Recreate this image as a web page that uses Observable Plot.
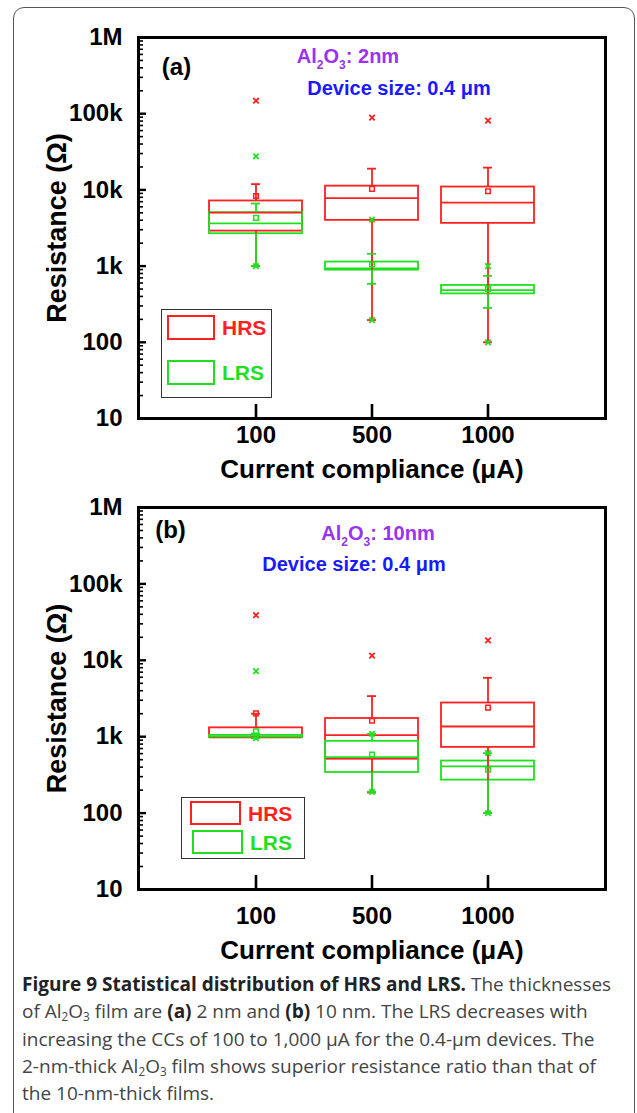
<!DOCTYPE html>
<html>
<head>
<meta charset="utf-8">
<script src="https://cdn.jsdelivr.net/npm/d3@7"></script>
<script src="https://cdn.jsdelivr.net/npm/@observablehq/plot@0.6"></script>
<style>
  html, body { margin: 0; padding: 0; background: #fff; }
  body { width: 637px; height: 1113px; position: relative; overflow: hidden; }
  #border { position: absolute; left: 13px; top: 7px; width: 622px; height: 1130px;
            border: 1.3px solid #555; border-radius: 11px; box-sizing: border-box; }
  .panel { position: absolute; left: 0; }
  .legend { position: absolute; border: 1.6px solid #333; box-sizing: border-box; background: #fff;
            font-family: "Liberation Sans", Arial, sans-serif; font-weight: bold; }
  .legend .row { position: absolute; display: flex; align-items: center; }
  .legend .sw { box-sizing: border-box; border: 2px solid; background: #fff; }
  .legend .lab { margin-left: 7px; font-size: 21px; line-height: 1; }
  #caption { position: absolute; left: 22px; top: 971px; font-family: "Open Sans", sans-serif;
             font-size: 19px; line-height: 27.3px; color: #444; white-space: nowrap; }
  #caption b { color: #222; font-weight: 700; }
  #caption sub { font-size: 0.62em; vertical-align: -0.25em; line-height: 0; }
</style>
</head>
<body>
<div id="border"></div>
<div id="root"></div>
<div id="caption">
  <div><b>Figure 9 Statistical distribution of HRS and LRS.</b> The thicknesses</div>
  <div>of Al<sub>2</sub>O<sub>3</sub> film are <b>(a)</b> 2 nm and <b>(b)</b> 10 nm. The LRS decreases with</div>
  <div>increasing the CCs of 100 to 1,000 μA for the 0.4-μm devices. The</div>
  <div>2-nm-thick Al<sub>2</sub>O<sub>3</sub> film shows superior resistance ratio than that of</div>
  <div>the 10-nm-thick films.</div>
</div>
<script>
// ---------- data ----------
const ccLabels = ["100", "500", "1000"];
const yTickValues = [10, 100, 1000, 10000, 100000, 1000000];
const yTickLabels = ["10", "100", "1k", "10k", "100k", "1M"];
const states = ["HRS", "LRS"];
const stateColors = ["#ff2020", "#1fe01f"];

// Panel (a): Al2O3 2 nm
const aHrsQ1 = [2880, 3980, 3640];
const aHrsMedian = [5020, 7780, 6800];
const aHrsQ3 = [7160, 11200, 10900];
const aHrsLow = [1000, 196, 100];
const aHrsHigh = [11900, 19000, 19600];
const aHrsMean = [8300, 10300, 9600];
const aHrsCross = [148000, 89000, 81000];
const aLrsQ1 = [2660, 885, 432];
const aLrsMedian = [3640, 933, 483];
const aLrsQ3 = [5020, 1130, 557];
const aLrsLow = [1000, 585, 283];
const aLrsHigh = [6620, 1450, 745];
const aLrsMean = [4300, 1050, 500];
const aLrsCrossHigh = [27600, 4060, 1000];
const aLrsCrossLow = [1000, 196, 100];

// Panel (b): Al2O3 10 nm
const bHrsQ1 = [984, 507, 725];
const bHrsMedian = [984, 1050, 1360];
const bHrsQ3 = [1306, 1730, 2760];
const bHrsLow = [984, 186, 100];
const bHrsHigh = [2000, 3400, 5900];
const bHrsMean = [2020, 1620, 2400];
const bHrsCross = [38900, 11500, 18200];
const bLrsQ1 = [970, 340, 270];
const bLrsMedian = [1000, 540, 410];
const bLrsQ3 = [1040, 870, 480];
const bLrsLow = [960, 190, 100];
const bLrsHigh = [1100, 1090, 610];
const bLrsMean = [1180, 585, 370];
const bLrsCrossHigh = [7200, 1090, 610];
const bLrsCrossLow = [960, 190, 100];

// ---------- helpers ----------
function boxRows(state, q1, med, q3, lo, hi, mean) {
  return ccLabels.map((cc, i) => ({cc, state, q1: q1[i], med: med[i], q3: q3[i], lo: lo[i], hi: hi[i], mean: mean[i]}));
}
function pointRows(state, values) {
  return ccLabels.map((cc, i) => ({cc, state, v: values[i]}));
}
const minorTicks = yTickValues.slice(0, -1).flatMap(d => [2,3,4,5,6,7,8,9].map(m => m * d));

const W = 637, ML = 138, MR = 32;
const PW = W - ML - MR;
const FONT = "'Liberation Sans', Arial, Helvetica, sans-serif";

function subscriptify(svg) {
  svg.querySelectorAll("text").forEach(t => {
    const s = t.textContent;
    if (s.startsWith("Al2O3")) {
      const rest = s.slice(5);
      while (t.firstChild) t.removeChild(t.firstChild);
      const ns = "http://www.w3.org/2000/svg";
      const parts = [["Al", 0], ["2", 1], ["O", 0], ["3", 1], [rest, 0]];
      let cur = 0;
      for (const [txt, sub] of parts) {
        const ts = document.createElementNS(ns, "tspan");
        ts.textContent = txt;
        const target = sub ? 6 : 0;
        if (target !== cur) { ts.setAttribute("dy", target - cur); cur = target; }
        if (sub) ts.setAttribute("font-size", "12");
        t.appendChild(ts);
      }
    }
  });
}

function panel(cfg) {
  const PH = cfg.height - cfg.marginTop - cfg.marginBottom;
  const boxes = [...cfg.hrs, ...cfg.lrs];
  const T = {textAnchor: "middle", lineAnchor: "middle", fontWeight: "bold", fill: "black"};
  const svg = Plot.plot({
    width: W, height: cfg.height,
    marginLeft: ML, marginRight: MR, marginTop: cfg.marginTop, marginBottom: cfg.marginBottom,
    style: {fontFamily: FONT, background: "transparent", overflow: "visible"},
    x: {type: "band", domain: ccLabels, paddingInner: 0.195, paddingOuter: 0.6, axis: null},
    y: {type: "log", domain: [10, 1e6], axis: null},
    color: {domain: states, range: stateColors},
    marks: [
      // inward axis ticks
      Plot.tickY(minorTicks, {y: d => d, stroke: "black", strokeWidth: 1.6, insetRight: PW - 5}),
      Plot.tickY(yTickValues, {y: d => d, stroke: "black", strokeWidth: 2.4, insetRight: PW - 8}),
      Plot.tickX(ccLabels, {x: d => d, stroke: "black", strokeWidth: 2.6, insetTop: PH - 14}),
      // boxes
      Plot.barY(boxes, {x: "cc", y1: "q1", y2: "q3", fill: "none", stroke: "state", strokeWidth: 1.8}),
      Plot.tickY(boxes, {x: "cc", y: "med", stroke: "state", strokeWidth: 1.8}),
      Plot.ruleX(boxes, {x: "cc", y1: "q3", y2: "hi", stroke: "state", strokeWidth: 1.8}),
      Plot.ruleX(boxes, {x: "cc", y1: "lo", y2: "q1", stroke: "state", strokeWidth: 1.8}),
      Plot.tickY(boxes, {x: "cc", y: "hi", stroke: "state", strokeWidth: 1.8, insetLeft: 42, insetRight: 42}),
      Plot.tickY(boxes, {x: "cc", y: "lo", stroke: "state", strokeWidth: 1.8, insetLeft: 42, insetRight: 42}),
      Plot.dot(boxes, {x: "cc", y: "mean", symbol: "square", r: 2.6, fill: "none", stroke: "state", strokeWidth: 1.5}),
      Plot.dot(cfg.crosses, {x: "cc", y: "v", symbol: "times", r: 2.6, stroke: "state", strokeWidth: 1.8}),
      // tick labels and axis titles
      Plot.text(yTickValues, {...T, y: d => d, text: (d, i) => yTickLabels[i], frameAnchor: "left", textAnchor: "end",
        dx: -16, fontSize: 24}),
      Plot.text(ccLabels, {...T, x: d => d, text: d => d, frameAnchor: "bottom", dy: cfg.tickDy, fontSize: 24}),
      Plot.text(["Current compliance (μA)"], {...T, text: d => d, frameAnchor: "bottom", dy: cfg.labelDy, fontSize: 26}),
      Plot.text(["Resistance (Ω)"], {...T, text: d => d, frameAnchor: "left", rotate: -90, dx: -81, fontSize: 27}),
      // annotations
      Plot.text([cfg.panelLabel], {...T, text: d => d, frameAnchor: "top-left", dx: cfg.pl[0], dy: cfg.pl[1], fontSize: 24}),
      Plot.text([cfg.film], {...T, text: d => d, frameAnchor: "top", dx: cfg.film_pos[0], dy: cfg.film_pos[1],
        fontSize: 20, fill: "#9933ee", letterSpacing: "0.6px"}),
      Plot.text(["Device size: 0.4 μm"], {...T, text: d => d, frameAnchor: "top", dx: cfg.dev_pos[0], dy: cfg.dev_pos[1],
        fontSize: 20, fill: "#1a1aff", letterSpacing: "0.6px"}),
      Plot.frame({stroke: "black", strokeWidth: 3})
    ]
  });
  subscriptify(svg);
  const wrap = document.createElement("div");
  wrap.className = "panel";
  wrap.style.top = cfg.top + "px";
  wrap.appendChild(svg);
  // legend (HTML, positioned inside the plot frame)
  const lg = document.createElement("div");
  lg.className = "legend";
  const L = cfg.legend;
  Object.assign(lg.style, {left: L.box[0] + "px", top: L.box[1] + "px", width: L.box[2] + "px", height: L.box[3] + "px"});
  states.forEach((s, i) => {
    const row = document.createElement("div");
    row.className = "row";
    row.style.left = L.rows[i][0] + "px";
    row.style.top = L.rows[i][1] + "px";
    const sw = document.createElement("div");
    sw.className = "sw";
    Object.assign(sw.style, {width: L.sw[0] + "px", height: L.sw[1] + "px", borderColor: stateColors[i]});
    const lab = document.createElement("span");
    lab.className = "lab";
    lab.style.color = stateColors[i];
    lab.textContent = s;
    row.appendChild(sw); row.appendChild(lab);
    lg.appendChild(row);
  });
  wrap.appendChild(lg);
  document.getElementById("root").appendChild(wrap);
}

panel({
  top: 0, height: 490, marginTop: 37, marginBottom: 72, tickDy: 17, labelDy: 51,
  hrs: boxRows("HRS", aHrsQ1, aHrsMedian, aHrsQ3, aHrsLow, aHrsHigh, aHrsMean),
  lrs: boxRows("LRS", aLrsQ1, aLrsMedian, aLrsQ3, aLrsLow, aLrsHigh, aLrsMean),
  crosses: [...pointRows("HRS", aHrsCross), ...pointRows("LRS", aLrsCrossHigh), ...pointRows("LRS", aLrsCrossLow)],
  panelLabel: "(a)", pl: [38, 30],
  film: "Al2O3: 2nm", film_pos: [-24, 19],
  dev_pos: [27, 51],
  legend: {box: [161, 309, 111, 89], rows: [[5, 5], [5, 50]], sw: [48, 25]}
});
panel({
  top: 490, height: 480, marginTop: 17, marginBottom: 81, tickDy: 27, labelDy: 61,
  hrs: boxRows("HRS", bHrsQ1, bHrsMedian, bHrsQ3, bHrsLow, bHrsHigh, bHrsMean),
  lrs: boxRows("LRS", bLrsQ1, bLrsMedian, bLrsQ3, bLrsLow, bLrsHigh, bLrsMean),
  crosses: [...pointRows("HRS", bHrsCross), ...pointRows("LRS", bLrsCrossHigh), ...pointRows("LRS", bLrsCrossLow)],
  panelLabel: "(b)", pl: [32, 23],
  film: "Al2O3: 10nm", film_pos: [6, 26],
  dev_pos: [-18, 57],
  legend: {box: [181, 307, 124, 62], rows: [[8, 3], [10, 32]], sw: [51, 24]}
});
</script>
</body>
</html>
